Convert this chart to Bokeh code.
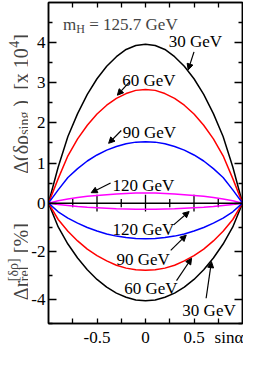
import math
from bokeh.plotting import figure
from bokeh.layouts import row
from bokeh.models import (Range1d, LinearAxis, FixedTicker, Label, Arrow, NormalHead,
                          ColumnDataSource, Span)
from bokeh.embed import file_html
from bokeh.resources import INLINE

FONT = "Liberation Serif"

# ---------------- data ----------------
sin_alpha = [-1.0, -0.9, -0.8, -0.7, -0.6, -0.5, -0.4, -0.3, -0.2, -0.1, 0.0,
             0.1, 0.2, 0.3, 0.4, 0.5, 0.6, 0.7, 0.8, 0.9, 1.0]

# upper panel: Delta(delta rho_sing) [x 10^4]
drho_30 = [0, 0.90, 1.66, 2.23, 2.71, 3.10, 3.41, 3.65, 3.83, 3.93, 3.96,
           3.93, 3.83, 3.65, 3.41, 3.10, 2.71, 2.23, 1.66, 0.90, 0]
drho_60 = [0, 0.61, 1.18, 1.60, 1.94, 2.22, 2.44, 2.61, 2.73, 2.81, 2.83,
           2.81, 2.73, 2.61, 2.44, 2.22, 1.94, 1.60, 1.18, 0.61, 0]
drho_90 = [0, 0.33, 0.64, 0.86, 1.05, 1.20, 1.32, 1.41, 1.48, 1.52, 1.53,
           1.52, 1.48, 1.41, 1.32, 1.20, 1.05, 0.86, 0.64, 0.33, 0]
drho_120 = [0, 0.06, 0.10, 0.14, 0.17, 0.19, 0.21, 0.23, 0.24, 0.25, 0.25,
            0.25, 0.24, 0.23, 0.21, 0.19, 0.17, 0.14, 0.10, 0.06, 0]

# lower panel: Delta r_rel [%]
dr_30 = [0, -0.99, -1.70, -2.28, -2.77, -3.17, -3.49, -3.74, -3.91, -4.02, -4.05,
         -4.02, -3.91, -3.74, -3.49, -3.17, -2.77, -2.28, -1.70, -0.99, 0]
dr_60 = [0, -0.68, -1.17, -1.57, -1.91, -2.18, -2.40, -2.58, -2.70, -2.77, -2.79,
         -2.77, -2.70, -2.58, -2.40, -2.18, -1.91, -1.57, -1.17, -0.68, 0]
dr_90 = [0, -0.36, -0.62, -0.83, -1.01, -1.16, -1.28, -1.37, -1.43, -1.47, -1.48,
         -1.47, -1.43, -1.37, -1.28, -1.16, -1.01, -0.83, -0.62, -0.36, 0]
dr_120 = [0, -0.06, -0.10, -0.14, -0.17, -0.19, -0.21, -0.23, -0.24, -0.25, -0.25,
          -0.25, -0.24, -0.23, -0.21, -0.19, -0.17, -0.14, -0.10, -0.06, 0]

series_colors = ["black", "red", "blue", "magenta"]

# annotation texts and their placements
up_text = ["30 GeV", "60 GeV", "90 GeV", "120 GeV"]
up_tx = [0.24, -0.24, -0.235, -0.34]
up_ty = [4.02, 3.05, 1.76, 0.45]
up_ax0 = [0.50, -0.17, -0.25, -0.36]
up_ay0 = [3.77, 3.01, 1.81, 0.50]
up_ax1 = [0.44, -0.29, -0.38, -0.56]
up_ay1 = [3.32, 2.69, 1.49, 0.26]

low_text = ["120 GeV", "90 GeV", "60 GeV", "30 GeV"]
low_tx = [-0.34, -0.30, -0.22, 0.38]
low_ty = [-1.09, -2.36, -3.55, -4.46]
low_ax0 = [0.29, 0.26, 0.32, 0.625]
low_ay0 = [-0.905, -1.96, -3.22, -3.95]
low_ax1 = [0.45, 0.42, 0.475, 0.68]
low_ay1 = [-0.35, -1.33, -2.29, -2.43]

x_labels = {-0.5: "-0.5", 0.0: "0", 0.5: "0.5", 0.86: "sinα"}
x_marks = [-0.75, -0.5, -0.25, 0.0, 0.25, 0.5, 0.75]
zero_major = [-0.5, 0.0, 0.5]
zero_minor = [-0.75, -0.25, 0.25, 0.75]
up_major = [0, 1, 2, 3, 4]
up_minor = [0.5, 1.5, 2.5, 3.5, 4.5]
low_major = [-2, -4]
low_minor = [-1, -3, -5]

# ---------------- geometry ----------------
W_TITLE = 28
W_MAIN = 215
H = 349
B_TOP, B_BOT = 2, 26
K = 0.6  # upper units per lower unit (screen scale ratio)

y_main = Range1d(-5 * K, 5)
y_low = Range1d(-5, 5 / K)

p = figure(width=W_MAIN, height=H, output_backend="svg", toolbar_location=None,
           x_range=Range1d(-1, 1), y_range=y_main,
           min_border_left=17, min_border_right=1, min_border_top=B_TOP,
           min_border_bottom=B_BOT)
p.extra_y_ranges = {"low": y_low}
p.xgrid.visible = False
p.ygrid.visible = False
p.outline_line_color = "black"
p.outline_line_width = 1.5

y_ticks = [v * K for v in low_major] + [float(v) for v in up_major]
y_minor = [v * K for v in low_minor] + up_minor
y_over = {v * K: str(v) for v in low_major}
y_over.update({float(v): str(v) for v in up_major})


def style_axis(ax, show_labels, major_len, minor_len):
    ax.axis_line_color = "black"
    ax.axis_line_width = 1.5
    ax.major_tick_in = major_len
    ax.major_tick_out = 0
    ax.minor_tick_in = minor_len
    ax.minor_tick_out = 0
    ax.major_tick_line_width = 1.3
    ax.minor_tick_line_width = 1.3
    ax.major_label_text_font = FONT
    if show_labels:
        ax.major_label_text_font_size = "17px"
        ax.major_label_text_color = "black"
    else:
        ax.major_label_text_font_size = "0px"
        ax.major_label_text_color = None
        ax.major_label_text_alpha = 0
        ax.major_label_standoff = 0


yl = p.yaxis[0]
yl.ticker = FixedTicker(ticks=y_ticks, minor_ticks=y_minor)
yl.major_label_overrides = y_over
style_axis(yl, True, 8, 4)
yl.major_label_standoff = 3

yr = LinearAxis(ticker=FixedTicker(ticks=y_ticks, minor_ticks=y_minor))
style_axis(yr, False, 8, 4)
p.add_layout(yr, "right")

xb = p.xaxis[0]
xb.ticker = FixedTicker(ticks=list(x_labels.keys()), minor_ticks=x_marks)
xb.major_label_overrides = x_labels
style_axis(xb, True, 0, 5)
xb.major_label_standoff = 4

xt = LinearAxis(ticker=FixedTicker(ticks=[], minor_ticks=x_marks))
style_axis(xt, False, 0, 5)
p.add_layout(xt, "above")

# zero line with crossing ticks
p.add_layout(Span(location=0, dimension="width", line_color="black", line_width=1.5))
TMAJ = 0.21
TMIN = 0.10
p.segment(x0=zero_major, x1=zero_major, y0=[-TMAJ] * 3, y1=[TMAJ] * 3,
          line_color="black", line_width=1.3)
p.segment(x0=zero_minor, x1=zero_minor, y0=[-TMIN] * 4, y1=[TMIN] * 4,
          line_color="black", line_width=1.3)

# curves
for ys, c in zip([drho_30, drho_60, drho_90, drho_120], series_colors):
    p.line(sin_alpha, ys, line_color=c, line_width=1.5)
for ys, c in zip([dr_30, dr_60, dr_90, dr_120], series_colors):
    p.line(sin_alpha, ys, line_color=c, line_width=1.5, y_range_name="low")

# annotation texts
for tx_, x, y in zip(up_text, up_tx, up_ty):
    p.add_layout(Label(x=x, y=y, text=tx_, text_font=FONT, text_font_size="17px",
                       text_color="black", text_baseline="alphabetic"))
for tx_, x, y in zip(low_text, low_tx, low_ty):
    p.add_layout(Label(x=x, y=y, text=tx_, text_font=FONT, text_font_size="17px",
                       text_color="black", text_baseline="alphabetic", y_range_name="low"))

p.add_layout(Arrow(end=NormalHead(size=6, fill_color="black", line_color="black"),
                   x_start="x0", y_start="y0", x_end="x1", y_end="y1", line_width=1.2,
                   source=ColumnDataSource(dict(x0=up_ax0, y0=up_ay0, x1=up_ax1, y1=up_ay1))))
p.add_layout(Arrow(end=NormalHead(size=6, fill_color="black", line_color="black"),
                   x_start="x0", y_start="y0", x_end="x1", y_end="y1", line_width=1.2,
                   y_range_name="low",
                   source=ColumnDataSource(dict(x0=low_ax0, y0=low_ay0, x1=low_ax1, y1=low_ay1))))

# m_H label
MH_X, MH_Y = -0.85, 4.45
p.add_layout(Label(x=MH_X, y=MH_Y, text="m", text_font=FONT, text_font_size="17px",
                   text_baseline="alphabetic"))
p.add_layout(Label(x=MH_X, y=MH_Y, x_offset=13.2, y_offset=-4, text="H", text_font=FONT,
                   text_font_size="12px", text_baseline="alphabetic"))
p.add_layout(Label(x=MH_X, y=MH_Y, x_offset=26.2, text="= 125.7 GeV", text_font=FONT,
                   text_font_size="17px", text_baseline="alphabetic"))

# ---------------- strip holding the rotated axis titles ----------------
t = figure(width=W_TITLE, height=H, output_backend="svg", toolbar_location=None,
           x_range=Range1d(0, W_TITLE), y_range=y_main,
           x_axis_location=None, y_axis_location=None,
           min_border_left=0, min_border_right=0, min_border_top=B_TOP,
           min_border_bottom=B_BOT)
t.extra_y_ranges = {"low": y_low}
t.xgrid.visible = False
t.ygrid.visible = False
t.outline_line_color = None

BASE_X = 20
# (text, size, advance along the text, shift across the baseline)
up_title = [("Δ(δρ", 20, 0, 0), ("sing", 14, 39, 4), (")", 20, 67, 0),
            ("[x 10", 20, 84, 0), ("4", 14, 126, -7), ("]", 20, 133, 0)]
for s_, sz, a, c in up_title:
    t.add_layout(Label(x=BASE_X + c, y=0.73, y_offset=a, text=s_, angle=math.pi / 2,
                       text_font=FONT, text_font_size=f"{sz}px", text_baseline="alphabetic",
                       text_align="left"))
low_title = [("Δr", 20, 0, 0), ("rel", 14, 19, 4), ("[δρ]", 14, 19, -7), ("[%]", 20, 47, 0)]
for s_, sz, a, c in low_title:
    t.add_layout(Label(x=BASE_X + c, y=-4.03, y_offset=a, text=s_, angle=math.pi / 2,
                       text_font=FONT, text_font_size=f"{sz}px", text_baseline="alphabetic",
                       text_align="left", y_range_name="low"))

layout = row(t, p)
open("out.html", "w").write(file_html(layout, INLINE))
